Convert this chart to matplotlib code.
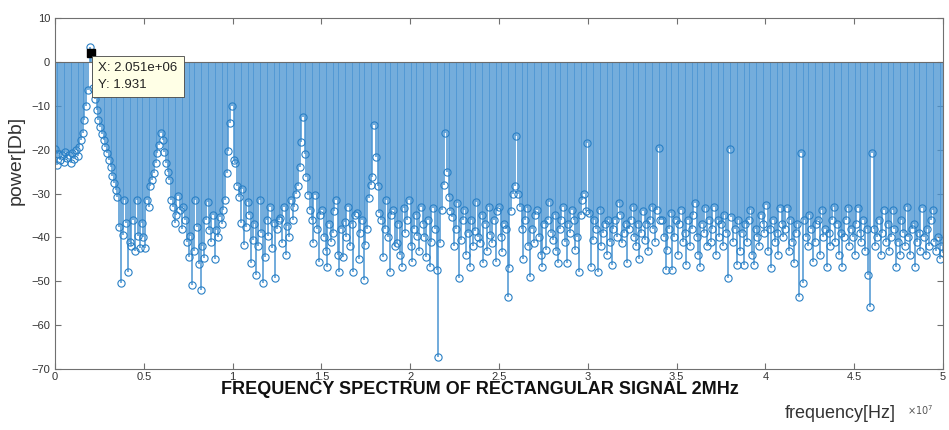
import matplotlib as mpl
mpl.use('Agg')
import matplotlib.pyplot as plt
import numpy as np

# sampling setup of the FFT (bins 0..N/2)
fs = 100e6
nfft = 1024

# power in dB for each FFT bin
power = [
    -19.8, -23.4, -21.0, -22.3, -21.2, -22.8, -20.6, -22.0, -21.3, -23.0,
    -20.8, -22.1, -20.0, -21.5, -19.3, -17.8, -16.3, -13.2, -10.0, -6.5,
    3.4, 1.931, -6.0, -8.5, -11.0, -13.2, -14.8, -16.4, -17.9, -19.4,
    -20.8, -22.3, -23.9, -26.0, -27.6, -29.2, -30.7, -37.6, -50.3, -39.4,
    -31.4, -36.7, -48.0, -41.0, -42.0, -36.0, -43.0, -31.4, -39.8, -42.5,
    -36.7, -40.0, -42.4, -31.4, -33.0, -28.4, -27.0, -25.4, -23.0, -20.8,
    -19.0, -16.3, -17.8, -20.5, -23.0, -25.0, -27.0, -31.4, -33.0, -36.7,
    -35.0, -30.5, -33.7, -38.0, -33.0, -36.0, -41.0, -44.4, -39.8, -50.8,
    -43.0, -31.4, -37.6, -46.0, -52.0, -42.0, -44.7, -36.0, -32.0, -38.3,
    -41.0, -35.0, -45.0, -38.3, -40.0, -35.3, -37.0, -33.7, -31.4, -25.3,
    -20.4, -14.0, -10.0, -22.3, -23.0, -28.4, -30.7, -36.7, -29.0, -41.7,
    -37.6, -32.0, -34.8, -45.8, -40.5, -37.0, -48.5, -42.0, -31.4, -39.0,
    -50.3, -44.4, -36.0, -39.8, -33.0, -42.5, -36.7, -49.2, -38.0, -36.0,
    -35.5, -41.2, -33.0, -44.0, -37.5, -40.0, -31.5, -36.0, -33.0, -30.0,
    -28.4, -23.9, -18.2, -12.5, -21.0, -26.2, -30.3, -33.7, -36.0, -41.2,
    -30.3, -38.0, -45.5, -35.0, -33.7, -40.0, -43.0, -46.7, -37.0, -41.0,
    -39.0, -34.0, -31.4, -44.0, -48.0, -38.0, -44.4, -36.5, -40.0, -33.0,
    -42.0, -37.0, -48.0, -35.0, -34.4, -45.0, -39.0, -36.0, -49.7, -41.7,
    -38.0, -31.0, -28.0, -26.2, -14.3, -21.6, -28.4, -34.4, -36.0, -44.4,
    -38.0, -31.4, -40.0, -48.0, -35.0, -33.7, -42.0, -41.2, -37.0, -44.0,
    -46.7, -33.3, -39.0, -36.0, -31.4, -42.0, -45.5, -38.0, -35.0, -39.8,
    -43.0, -33.0, -37.0, -40.0, -44.4, -36.0, -46.7, -41.0, -33.3, -38.0,
    -47.4, -67.2, -41.2, -33.7, -28.0, -16.2, -25.0, -30.7, -34.0, -35.3,
    -42.0, -38.0, -32.2, -49.2, -40.5, -36.0, -33.7, -44.0, -39.0, -46.7,
    -36.0, -42.0, -38.5, -31.9, -40.0, -41.2, -35.0, -45.8, -37.0, -43.0,
    -33.0, -39.5, -41.2, -36.0, -45.5, -34.0, -33.0, -40.0, -43.3, -37.0,
    -38.0, -53.5, -47.0, -34.0, -30.0, -28.4, -17.0, -30.0, -33.0, -38.0,
    -45.0, -36.0, -33.3, -42.0, -49.0, -38.0, -41.2, -35.0, -33.7, -40.0,
    -44.0, -46.7, -37.0, -42.8, -36.0, -31.9, -39.0, -40.5, -35.0, -43.0,
    -45.8, -38.0, -36.0, -33.0, -41.0, -45.8, -37.0, -39.0, -33.7, -36.0,
    -42.8, -40.0, -47.8, -35.0, -31.4, -30.0, -34.0, -18.4, -34.4, -46.7,
    -40.5, -36.0, -38.0, -48.0, -33.7, -42.0, -39.0, -37.0, -44.0, -36.0,
    -41.0, -46.2, -38.0, -36.0, -40.0, -32.2, -35.0, -41.2, -39.0, -37.0,
    -45.8, -38.0, -36.0, -33.0, -40.0, -42.0, -37.0, -45.0, -39.0, -34.0,
    -40.5, -37.0, -43.0, -36.0, -33.0, -38.0, -41.0, -33.7, -19.6, -36.0,
    -36.0, -40.0, -47.4, -42.8, -38.0, -34.4, -47.4, -40.0, -36.0, -44.0,
    -37.0, -33.7, -41.0, -39.0, -46.2, -36.0, -42.0, -38.0, -35.0, -32.2,
    -40.0, -44.0, -46.7, -37.0, -39.0, -33.3, -42.0, -36.0, -41.0, -38.0,
    -33.0, -44.0, -36.0, -40.0, -37.0, -42.0, -35.0, -39.0, -49.2, -19.8,
    -35.3, -41.0, -38.0, -46.2, -36.0, -43.0, -39.0, -46.2, -37.0, -41.0,
    -36.0, -33.7, -44.0, -46.2, -38.0, -40.0, -42.0, -35.0, -37.0, -39.0,
    -32.6, -43.0, -38.0, -47.0, -36.0, -41.0, -39.0, -44.0, -33.3, -37.0,
    -40.0, -38.0, -33.3, -43.0, -36.0, -41.0, -45.8, -39.0, -37.0, -53.5,
    -20.7, -50.3, -36.0, -40.0, -42.0, -34.8, -38.0, -45.5, -41.0, -37.0,
    -36.0, -44.0, -33.7, -40.0, -38.0, -46.7, -39.0, -42.0, -36.0, -33.0,
    -41.0, -37.0, -44.0, -39.0, -46.7, -40.0, -36.0, -33.3, -42.0, -38.0,
    -40.0, -44.0, -37.0, -33.3, -39.0, -41.0, -36.0, -43.0, -38.0, -48.5,
    -55.8, -20.7, -38.0, -42.0, -40.0, -36.0, -44.0, -39.0, -33.7, -41.0,
    -37.0, -43.0, -40.0, -33.7, -38.0, -46.7, -41.0, -44.0, -36.0, -39.0,
    -42.0, -33.0, -40.0, -44.0, -38.0, -37.0, -46.7, -41.0, -39.0, -43.0,
    -33.3, -40.0, -44.0, -38.0, -42.0, -36.0, -33.7, -41.0, -43.0, -40.0,
    -45.0, -42.0, -43.5,
]

# data tip shown on the plot
tip_bin = 21
tip_text = 'X: 2.051e+06\nY: 1.931'

freq = np.arange(len(power)) * fs / nfft

plt.rcParams['font.family'] = ['Liberation Sans', 'DejaVu Sans']

fig = plt.figure(figsize=(9.49, 4.30), dpi=100)
ax = fig.add_axes([55 / 949, 1 - 369 / 430, 888 / 949, 351 / 430])

markerline, stemlines, baseline = ax.stem(freq, power, linefmt='-', markerfmt='o', basefmt='-')
stemlines.set_color('#4a94d2')
stemlines.set_linewidth(1.1)
markerline.set_color('#2a80c6')
markerline.set_markerfacecolor('none')
markerline.set_markersize(5.2)
markerline.set_markeredgewidth(0.8)
baseline.set_color('#6a6a6a')
baseline.set_linewidth(0.8)

ax.set_xlim(0, 5e7)
ax.set_ylim(-70, 10)
ax.set_xticks(np.arange(0, 5.01e7, 0.5e7))
ax.set_xticklabels(['0', '0.5', '1', '1.5', '2', '2.5', '3', '3.5', '4', '4.5', '5'])
ax.set_yticks(np.arange(-70, 11, 10))

for s in ax.spines.values():
    s.set_color('#707070')
    s.set_linewidth(0.8)
ax.tick_params(direction='in', top=True, right=True, length=4, width=0.8,
               color='#707070', labelcolor='#333333', labelsize=8)
ax.tick_params(axis='x', pad=2)

# data tip
ax.plot(freq[tip_bin], power[tip_bin], 's', color='black', markersize=5.5)
ax.annotate(tip_text, xy=(freq[tip_bin], power[tip_bin]), xytext=(5, -6),
            textcoords='offset points', ha='left', va='top', fontsize=9.5,
            color='#222222', linespacing=1.6,
            bbox=dict(boxstyle='square,pad=0.45', fc='#ffffe6', ec='#444444', lw=0.6))

fig.text(480 / 949, 1 - 389 / 430, 'FREQUENCY SPECTRUM OF RECTANGULAR SIGNAL 2MHz',
         ha='center', va='center', fontsize=13, fontweight='bold', color='#111111')
fig.text(840 / 949, 1 - 413 / 430, 'frequency[Hz]', ha='center', va='center',
         fontsize=13, color='#333333')
fig.text(920 / 949, 1 - 410 / 430, r'$\times10^7$', ha='center', va='center',
         fontsize=7, color='#555555')
fig.text(16 / 949, 1 - 160 / 430, 'power[Db]', ha='center', va='center',
         rotation=90, fontsize=14, color='#333333')

fig.savefig('out.png', dpi=100)
plt.close(fig)
